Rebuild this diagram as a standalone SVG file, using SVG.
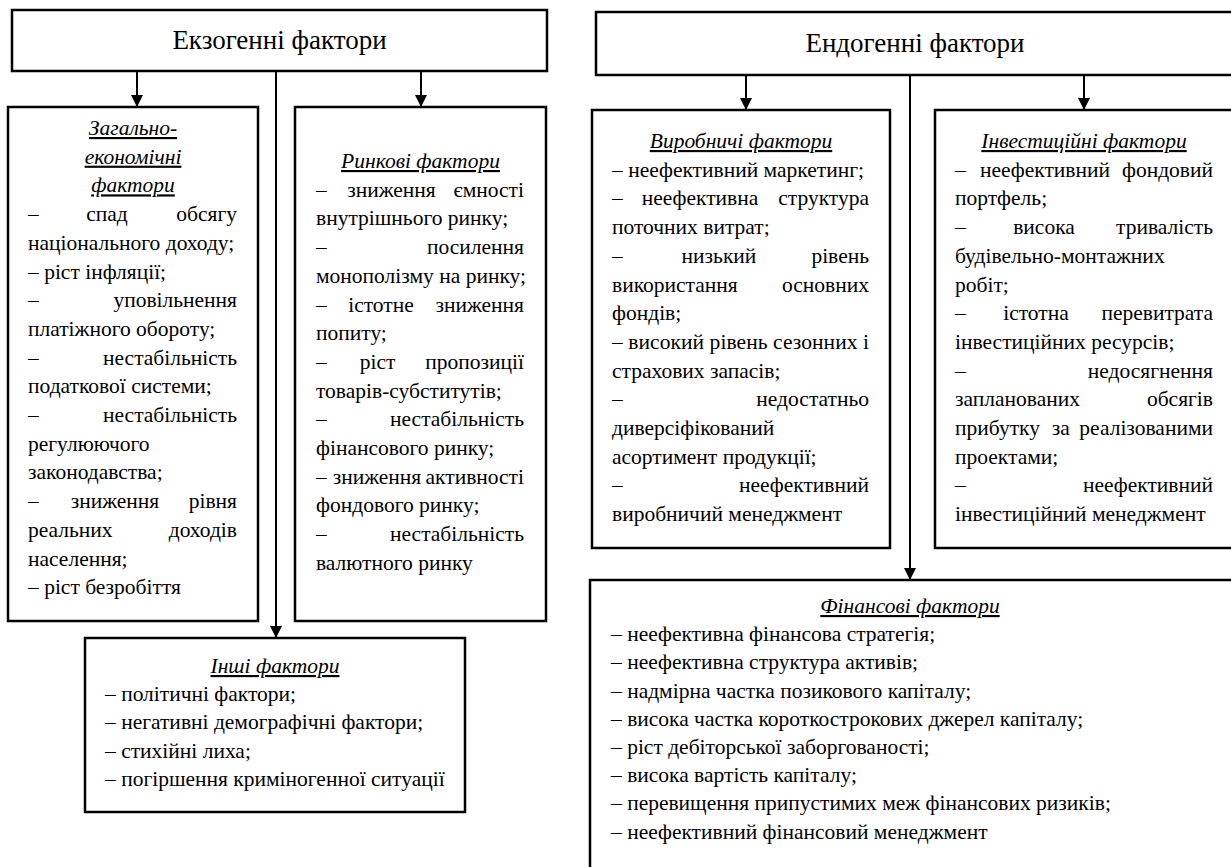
<svg xmlns="http://www.w3.org/2000/svg" width="1231" height="867" viewBox="0 0 1231 867">
<style>
.box{fill:#fff;stroke:#000;stroke-width:2.5}
.ln{fill:none;stroke:#000;stroke-width:2}
text{font-family:'Liberation Serif','Times New Roman',serif;font-size:21.5px;fill:#000}
.h{font-size:27px;text-anchor:middle}
.ti{font-style:italic;text-decoration:underline;text-anchor:middle}
.m{text-anchor:middle}
.e{text-anchor:end}
</style>
<defs>
<marker id="ah" viewBox="0 0 10 10" refX="10" refY="5" markerWidth="13" markerHeight="12" markerUnits="userSpaceOnUse" orient="auto">
<path d="M0,0 L10,5 L0,10 z" fill="#000"/>
</marker>
</defs>

<g id="exo-header">
<rect class="box" x="12" y="10" width="535" height="61"/>
<text class="h" x="279.5" y="49">Екзогенні фактори</text>
</g>

<g id="endo-header">
<rect class="box" x="596" y="12" width="640" height="63"/>
<text class="h" x="915" y="52">Ендогенні фактори</text>
</g>

<g id="general-economic">
<rect class="box" x="8" y="107" width="250" height="514"/>
<text class="ti" x="133" y="135">Загально-</text>
<text class="ti" x="133" y="163.7">економічні</text>
<text class="ti" x="133" y="192.4">фактори</text>
<text x="28" y="221.1">–</text><text class="m" x="107" y="221.1">спад</text><text class="e" x="237" y="221.1">обсягу</text>
<text x="28" y="249.8">національного доходу;</text>
<text x="28" y="278.5">– ріст інфляції;</text>
<text x="28" y="307.2">–</text><text class="e" x="237" y="307.2">уповільнення</text>
<text x="28" y="335.9">платіжного обороту;</text>
<text x="28" y="364.6">–</text><text class="e" x="237" y="364.6">нестабільність</text>
<text x="28" y="393.3">податкової системи;</text>
<text x="28" y="422">–</text><text class="e" x="237" y="422">нестабільність</text>
<text x="28" y="450.7">регулюючого</text>
<text x="28" y="479.4">законодавства;</text>
<text x="28" y="508.1">–</text><text class="m" x="115" y="508.1">зниження</text><text class="e" x="237" y="508.1">рівня</text>
<text x="28" y="536.8">реальних</text><text class="e" x="237" y="536.8">доходів</text>
<text x="28" y="565.5">населення;</text>
<text x="28" y="594.2">– ріст безробіття</text>
</g>

<g id="market">
<rect class="box" x="295" y="107" width="251" height="514"/>
<text class="ti" x="420.5" y="168">Ринкові фактори</text>
<text x="316" y="196.7">–</text><text class="m" x="391.5" y="196.7">зниження</text><text class="e" x="524" y="196.7">ємності</text>
<text x="316" y="225.4">внутрішнього ринку;</text>
<text x="316" y="254.1">–</text><text class="e" x="524" y="254.1">посилення</text>
<text x="316" y="282.8">монополізму на ринку;</text>
<text x="316" y="311.5">–</text><text class="m" x="381" y="311.5">істотне</text><text class="e" x="524" y="311.5">зниження</text>
<text x="316" y="340.2">попиту;</text>
<text x="316" y="368.9">–</text><text class="m" x="377.5" y="368.9">ріст</text><text class="e" x="524" y="368.9">пропозиції</text>
<text x="316" y="397.6">товарів-субститутів;</text>
<text x="316" y="426.3">–</text><text class="e" x="524" y="426.3">нестабільність</text>
<text x="316" y="455">фінансового ринку;</text>
<text x="316" y="483.7">–</text><text class="m" x="377" y="483.7">зниження</text><text class="e" x="524" y="483.7">активності</text>
<text x="316" y="512.4">фондового ринку;</text>
<text x="316" y="541.1">–</text><text class="e" x="524" y="541.1">нестабільність</text>
<text x="316" y="569.8">валютного ринку</text>
</g>

<g id="other">
<rect class="box" x="85" y="638" width="380" height="174"/>
<text class="ti" x="275" y="673">Інші фактори</text>
<text x="105" y="701.2">– політичні фактори;</text>
<text x="105" y="729.4">– негативні демографічні фактори;</text>
<text x="105" y="757.6">– стихійні лиха;</text>
<text x="105" y="785.8">– погіршення криміногенної ситуації</text>
</g>

<g id="production">
<rect class="box" x="592" y="110" width="298" height="438"/>
<text class="ti" x="741" y="148">Виробничі фактори</text>
<text x="612" y="176.7">– неефективний маркетинг;</text>
<text x="612" y="205.4">–</text><text class="m" x="700" y="205.4">неефективна</text><text class="e" x="869" y="205.4">структура</text>
<text x="612" y="234.1">поточних витрат;</text>
<text x="612" y="262.8">–</text><text class="m" x="719" y="262.8">низький</text><text class="e" x="869" y="262.8">рівень</text>
<text x="612" y="291.5">використання</text><text class="e" x="869" y="291.5">основних</text>
<text x="612" y="320.2">фондів;</text>
<text x="612" y="348.9" textLength="257" lengthAdjust="spacing">– високий рівень сезонних і</text>
<text x="612" y="377.6">страхових запасів;</text>
<text x="612" y="406.3">–</text><text class="e" x="869" y="406.3">недостатньо</text>
<text x="612" y="435">диверсіфікований</text>
<text x="612" y="463.7">асортимент продукції;</text>
<text x="612" y="492.4">–</text><text class="e" x="869" y="492.4">неефективний</text>
<text x="612" y="521.1">виробничий менеджмент</text>
</g>

<g id="investment">
<rect class="box" x="935" y="110" width="301" height="438"/>
<text class="ti" x="1084" y="148">Інвестиційні фактори</text>
<text x="955" y="176.7">–</text><text class="m" x="1045" y="176.7">неефективний</text><text class="e" x="1213" y="176.7">фондовий</text>
<text x="955" y="205.4">портфель;</text>
<text x="955" y="234.1">–</text><text class="m" x="1044" y="234.1">висока</text><text class="e" x="1213" y="234.1">тривалість</text>
<text x="955" y="262.8">будівельно-монтажних</text>
<text x="955" y="291.5">робіт;</text>
<text x="955" y="320.2">–</text><text class="m" x="1036" y="320.2">істотна</text><text class="e" x="1213" y="320.2">перевитрата</text>
<text x="955" y="348.9">інвестиційних ресурсів;</text>
<text x="955" y="377.6">–</text><text class="e" x="1213" y="377.6">недосягнення</text>
<text x="955" y="406.3">запланованих</text><text class="e" x="1213" y="406.3">обсягів</text>
<text x="955" y="435">прибутку</text><text class="m" x="1060.8" y="435">за</text><text class="e" x="1213" y="435">реалізованими</text>
<text x="955" y="463.7">проектами;</text>
<text x="955" y="492.4">–</text><text class="e" x="1213" y="492.4">неефективний</text>
<text x="955" y="521.1">інвестиційний менеджмент</text>
</g>

<g id="financial">
<rect class="box" x="590" y="580" width="646" height="300"/>
<text class="ti" x="910" y="613">Фінансові фактори</text>
<text x="611" y="641.2">– неефективна фінансова стратегія;</text>
<text x="611" y="669.4">– неефективна структура активів;</text>
<text x="611" y="697.6">– надмірна частка позикового капіталу;</text>
<text x="611" y="725.8">– висока частка короткострокових джерел капіталу;</text>
<text x="611" y="754">– ріст дебіторської заборгованості;</text>
<text x="611" y="782.2">– висока вартість капіталу;</text>
<text x="611" y="810.4">– перевищення припустимих меж фінансових ризиків;</text>
<text x="611" y="838.6">– неефективний фінансовий менеджмент</text>
</g>

<g id="connectors">
<line class="ln" x1="137" y1="71" x2="137" y2="107" marker-end="url(#ah)"/>
<line class="ln" x1="421" y1="71" x2="421" y2="107" marker-end="url(#ah)"/>
<line class="ln" x1="276" y1="71" x2="276" y2="638" marker-end="url(#ah)"/>
<line class="ln" x1="746" y1="75" x2="746" y2="110" marker-end="url(#ah)"/>
<line class="ln" x1="1084" y1="75" x2="1084" y2="110" marker-end="url(#ah)"/>
<line class="ln" x1="910" y1="75" x2="910" y2="580" marker-end="url(#ah)"/>
</g>
</svg>
